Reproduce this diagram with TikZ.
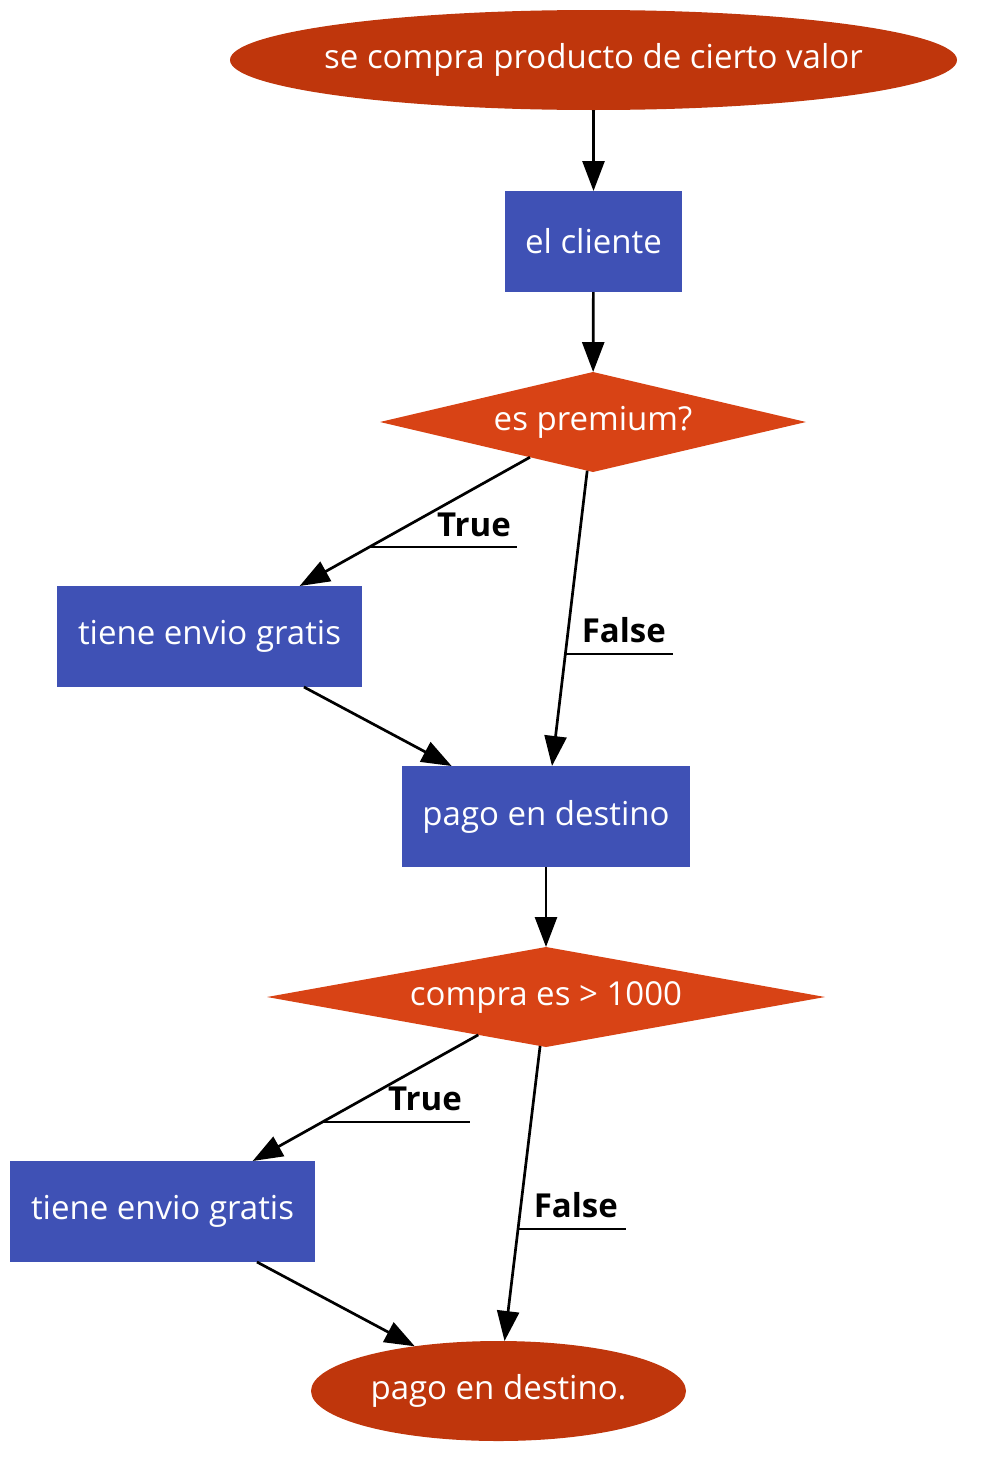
\documentclass[tikz,border=0pt]{standalone}
\usepackage{fontspec}
\setmainfont{Open Sans}
\usetikzlibrary{shapes.geometric,arrows.meta}
\definecolor{ellcol}{HTML}{BF360C}
\definecolor{boxcol}{HTML}{3F51B5}
\definecolor{diacol}{HTML}{D84315}
\tikzset{
  base/.style={text=white, font=\fontsize{33}{38}\selectfont, inner sep=0pt, outer sep=0pt},
  ellnode/.style={base, ellipse, fill=ellcol},
  boxnode/.style={base, rectangle, fill=boxcol},
  dianode/.style={base, diamond, fill=diacol},
  lbl/.style={font=\fontsize{33}{38}\selectfont\bfseries, inner sep=0pt, text=black},
  conn/.style={line width=2.7pt, -{Triangle[length=30pt,width=22pt]}},
  uline/.style={line width=2.7pt}
}
\begin{document}
\begin{tikzpicture}[x=1pt,y=-1pt]
\useasboundingbox (0,0) rectangle (981,1467);
\node[ellnode, minimum width=727pt, minimum height=100pt] (start) at (593.5,60) {\makebox[0pt]{se compra producto de cierto valor}};
\node[boxnode, minimum width=177pt, minimum height=101pt] (cli) at (593.5,241.5) {el cliente};
\node[dianode, aspect=4.26, minimum width=426pt, minimum height=100pt] (d1) at (593,422) {\makebox[0pt]{es premium?}};
\node[boxnode, minimum width=305pt, minimum height=101pt] (b1) at (209.5,636.5) {tiene envio gratis};
\node[boxnode, minimum width=288pt, minimum height=101pt] (pago) at (546,816.5) {pago en destino};
\node[dianode, aspect=5.58, minimum width=558pt, minimum height=100pt] (d2) at (546,997) {\makebox[0pt]{compra es > 1000}};
\node[boxnode, minimum width=305pt, minimum height=101pt] (b2) at (162.5,1211.5) {tiene envio gratis};
\node[ellnode, minimum width=375pt, minimum height=100pt] (end) at (498.5,1391) {\makebox[0pt]{pago en destino.}};

\draw[conn] (start) -- (cli);
\draw[conn] (cli) -- (d1);
\draw[conn] (d1) -- (b1);
\draw[conn] (d1) -- (pago);
\draw[conn] (b1) -- (pago);
\draw[conn] (pago) -- (d2);
\draw[conn] (d2) -- (b2);
\draw[conn] (d2) -- (end);
\draw[conn] (b2) -- (end);

\node[lbl, anchor=base east] (t1) at (511,536) {True};
\coordinate (u1a) at (370,547);
\coordinate (u1b) at (517,547);
\draw[uline] (u1a) -- (u1b);
\node[lbl, anchor=base east] (f1) at (666,642) {False};
\coordinate (u2a) at (566,654);
\coordinate (u2b) at (673,654);
\draw[uline] (u2a) -- (u2b);
\node[lbl, anchor=base east] (t2) at (462,1110) {True};
\coordinate (u3a) at (323,1122);
\coordinate (u3b) at (470,1122);
\draw[uline] (u3a) -- (u3b);
\node[lbl, anchor=base east] (f2) at (618,1217) {False};
\coordinate (u4a) at (519,1229);
\coordinate (u4b) at (626,1229);
\draw[uline] (u4a) -- (u4b);
\end{tikzpicture}
\end{document}
